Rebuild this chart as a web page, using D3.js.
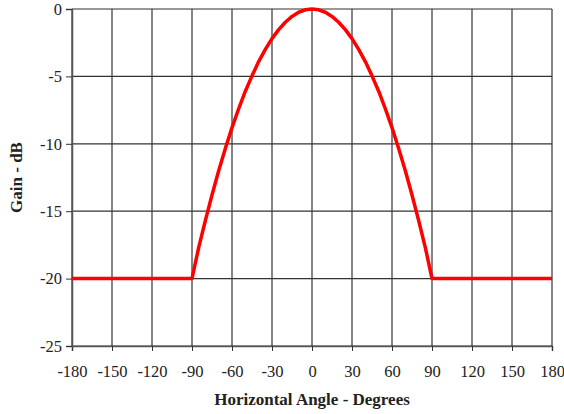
<!DOCTYPE html>
<html>
<head>
<meta charset="utf-8">
<script src="https://cdn.jsdelivr.net/npm/d3@7"></script>
<style>
  body { margin: 0; background: #fff; }
  text { font-family: "Liberation Serif", "Times New Roman", serif; }
</style>
</head>
<body>
<div id="container"></div>
<script>
// angle (degrees) and gain (dB)
const angles = [-180, -90, -85, -80, -75, -70, -65, -60, -55, -50, -45, -40, -35, -30, -25, -20, -15, -10, -5,
  0, 5, 10, 15, 20, 25, 30, 35, 40, 45, 50, 55, 60, 65, 70, 75, 80, 85, 90, 180];
const gains = [-20, -20, -17.7, -15.7, -13.8, -12.0, -10.35, -8.8, -7.4, -6.1, -4.96, -3.9, -3.0, -2.2, -1.53, -0.98, -0.55, -0.24, -0.06,
  0, -0.06, -0.24, -0.55, -0.98, -1.53, -2.2, -3.0, -3.9, -4.96, -6.1, -7.4, -8.8, -10.35, -12.0, -13.8, -15.7, -17.7, -20, -20];
const xTicks = [-180, -150, -120, -90, -60, -30, 0, 30, 60, 90, 120, 150, 180];
const yTicks = [0, -5, -10, -15, -20, -25];

const width = 564, height = 414;
const margin = { top: 9, right: 12, bottom: 68, left: 72 };
const wid = width - margin.left - margin.right;
const hei = height - margin.top - margin.bottom;

const data = angles.map((a, i) => ({ angle: a, gain: gains[i] }));

const svg = d3.select("#container").append("svg")
  .attr("width", width)
  .attr("height", height)
  .append("g")
  .attr("transform", `translate(${margin.left},${margin.top})`);

const xScale = d3.scaleLinear().domain([-180, 180]).range([0, wid]);
const yScale = d3.scaleLinear().domain([-25, 0]).range([hei, 0]);

// grid
svg.append("g").selectAll("line").data(xTicks).join("line")
  .attr("x1", d => xScale(d)).attr("x2", d => xScale(d))
  .attr("y1", 0).attr("y2", hei)
  .attr("stroke", "#333").attr("stroke-width", 1.2);
svg.append("g").selectAll("line").data(yTicks).join("line")
  .attr("x1", 0).attr("x2", wid)
  .attr("y1", d => yScale(d)).attr("y2", d => yScale(d))
  .attr("stroke", "#333").attr("stroke-width", 1.2);

// axes (plain hyphen for negatives, like the original)
const fmt = d => String(d);
const xAxis = svg.append("g")
  .attr("transform", "translate(0," + hei + ")")
  .call(d3.axisBottom(xScale).tickValues(xTicks).tickFormat(fmt).tickSize(5).tickPadding(14));
const yAxis = svg.append("g")
  .call(d3.axisLeft(yScale).tickValues(yTicks).tickFormat(fmt).tickSize(6).tickPadding(4));
[xAxis, yAxis].forEach(ax => {
  ax.select(".domain").attr("stroke", "#555").attr("stroke-width", 1.5);
  ax.selectAll(".tick line").attr("stroke", "#333");
  ax.selectAll("text")
    .style("font-family", '"Liberation Serif", serif')
    .style("font-size", "16.5px")
    .attr("fill", "#222");
});

// curve
svg.append("path")
  .datum(data)
  .attr("fill", "none")
  .attr("stroke", "#ff0000")
  .attr("stroke-width", 3.5)
  .attr("stroke-linejoin", "round")
  .attr("d", d3.line()
    .x(d => xScale(d.angle))
    .y(d => yScale(d.gain)));

// axis titles
svg.append("text")
  .attr("x", wid / 2)
  .attr("y", hei + 59)
  .attr("text-anchor", "middle")
  .style("font-size", "17px")
  .style("font-weight", "bold")
  .attr("fill", "#222")
  .text("Horizontal Angle - Degrees");

svg.append("text")
  .attr("transform", `translate(${-50},${yScale(-12.5)}) rotate(-90)`)
  .attr("text-anchor", "middle")
  .style("font-size", "17px")
  .style("font-weight", "bold")
  .attr("fill", "#222")
  .text("Gain - dB");
</script>
</body>
</html>
